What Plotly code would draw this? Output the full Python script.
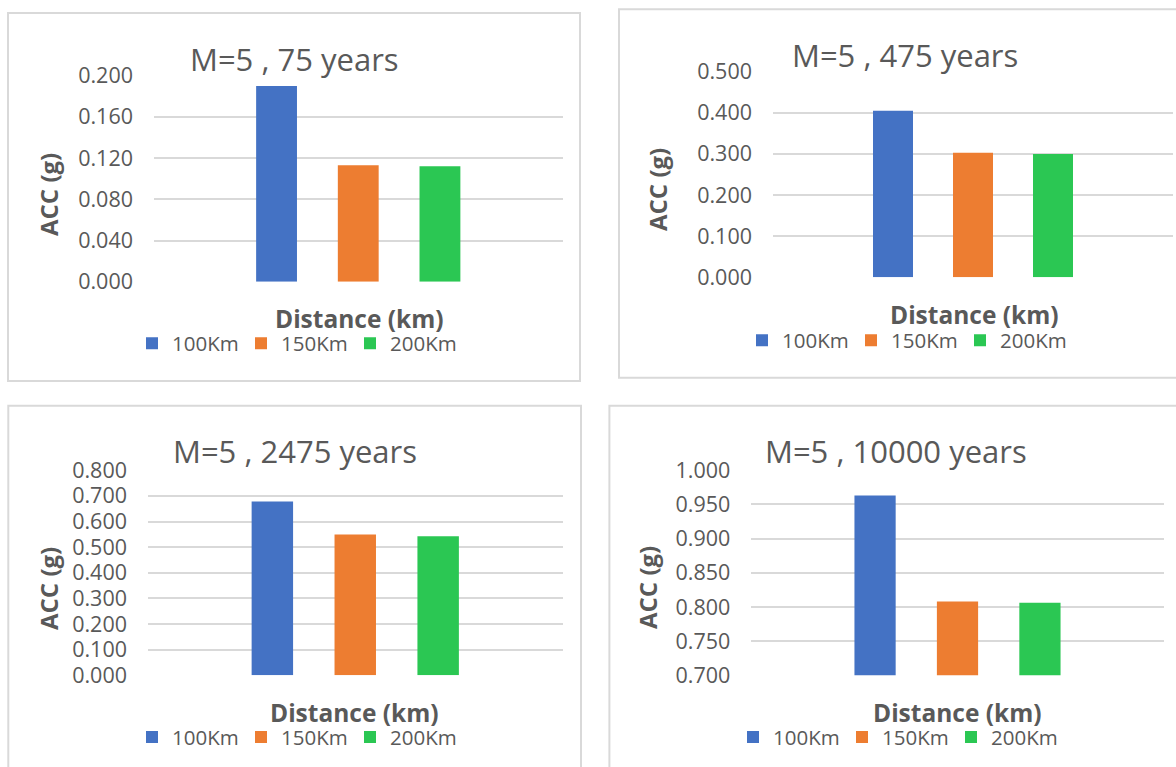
import plotly.graph_objects as go

# Peak ground acceleration (g) at three epicentral distances, M=5
distances = ["100Km", "150Km", "200Km"]
acc_75 = [0.190, 0.113, 0.112]
acc_475 = [0.405, 0.303, 0.300]
acc_2475 = [0.678, 0.549, 0.543]
acc_10000 = [0.963, 0.808, 0.806]

titles = ["M=5 , 75 years", "M=5 , 475 years", "M=5 , 2475 years", "M=5 , 10000 years"]
series = [acc_75, acc_475, acc_2475, acc_10000]
y_ranges = [(0.0, 0.2), (0.0, 0.5), (0.0, 0.8), (0.7, 1.0)]
y_steps = [0.04, 0.1, 0.1, 0.05]

colors = ["#4472C4", "#ED7D31", "#2BC753"]
TEXT = "#595959"
GRID = "#D9D9D9"
FONT = "Open Sans"

W, H = 1176, 767


def px(x):
    return x / W


def py(y):
    return 1 - y / H


# Panel geometry in pixels
panels = [
    dict(box=(8, 13, 580, 381), plot=(154, 75.7, 562.5, 281.7), title=(295, 59.5),
         ytitle=(48, 194), xtitle=(359, 318), legend=(148, 343.5)),
    dict(box=(619, 9.3, 1195, 377.7), plot=(773, 71.7, 1173, 277.3), title=(905, 55),
         ytitle=(657, 190), xtitle=(974, 314), legend=(758, 340.5)),
    dict(box=(8.3, 405.7, 581, 790), plot=(148, 470.3, 562.5, 675.3), title=(295, 451),
         ytitle=(48, 588), xtitle=(355, 712), legend=(148, 737.2)),
    dict(box=(609.4, 405.7, 1195, 790), plot=(751.4, 470.3, 1163.6, 675.3), title=(895.6, 451),
         ytitle=(647, 588), xtitle=(957, 712), legend=(749, 737.2)),
]

fig = go.Figure()
layout = dict(
    width=W, height=H,
    margin=dict(l=0, r=0, t=0, b=0, autoexpand=False),
    paper_bgcolor="white", plot_bgcolor="white",
    barmode="group", bargap=0.4, bargroupgap=0.5,
    font=dict(family=FONT, color=TEXT),
    showlegend=True,
)
shapes = []
annotations = []

for i, (p, vals, title, yr, step) in enumerate(zip(panels, series, titles, y_ranges, y_steps)):
    n = "" if i == 0 else str(i + 1)
    xa, ya = "x" + n, "y" + n
    lg = "legend" + n
    for name, v, c in zip(distances, vals, colors):
        fig.add_trace(go.Bar(
            x=[""], y=[v], name=name, marker=dict(color=c, line=dict(width=0)),
            xaxis=xa, yaxis=ya, legend=lg, hoverinfo="skip",
        ))
    x0, y0, x1, y1 = p["plot"]
    layout["xaxis" + n] = dict(
        domain=[px(x0), px(x1)], anchor=ya, showticklabels=False, showgrid=False,
        zeroline=False, showline=False, ticks="", fixedrange=True,
    )
    tickvals = []
    k = 0
    while yr[0] + k * step <= yr[1] + 1e-9:
        tickvals.append(round(yr[0] + k * step, 3))
        k += 1
    layout["yaxis" + n] = dict(
        domain=[py(y1), py(y0)], anchor=xa, range=list(yr),
        tickvals=tickvals, ticktext=[f"{t:.3f}" for t in tickvals],
        showgrid=True, gridcolor=GRID, gridwidth=1.5, zeroline=False, showline=False,
        ticks="", ticklabelstandoff=20,
        tickfont=dict(size=21.5, color=TEXT, family=FONT), fixedrange=True,
    )
    bx0, by0, bx1, by1 = p["box"]
    shapes.append(dict(type="rect", xref="paper", yref="paper",
                       x0=px(bx0), x1=px(bx1), y0=py(by1), y1=py(by0),
                       line=dict(color=GRID, width=2), fillcolor="rgba(0,0,0,0)", layer="below"))
    tx, ty = p["title"]
    annotations.append(dict(text=title, x=px(tx), y=py(ty), xref="paper", yref="paper",
                            xanchor="center", yanchor="middle", showarrow=False,
                            font=dict(size=31, color=TEXT, family=FONT)))
    ax_, ay_ = p["ytitle"]
    annotations.append(dict(text="<b>ACC (g)</b>", x=px(ax_), y=py(ay_), xref="paper", yref="paper",
                            xanchor="center", yanchor="middle", showarrow=False, textangle=-90,
                            font=dict(size=24, color=TEXT, family=FONT)))
    dx, dy = p["xtitle"]
    annotations.append(dict(text="<b>Distance (km)</b>", x=px(dx), y=py(dy), xref="paper", yref="paper",
                            xanchor="center", yanchor="middle", showarrow=False,
                            font=dict(size=24.5, color=TEXT, family=FONT)))
    lx, ly = p["legend"]
    layout[lg] = dict(
        orientation="h", x=px(lx - 16), y=py(ly), xanchor="left", yanchor="middle",
        xref="paper", yref="paper",
        font=dict(size=20.5, color=TEXT, family=FONT), bgcolor="rgba(0,0,0,0)",
        entrywidth=64, entrywidthmode="pixels", itemwidth=30, traceorder="normal",
        itemclick=False, itemdoubleclick=False,
    )

layout["shapes"] = shapes
layout["annotations"] = annotations
fig.update_layout(**layout)
fig.write_html("out.html")
